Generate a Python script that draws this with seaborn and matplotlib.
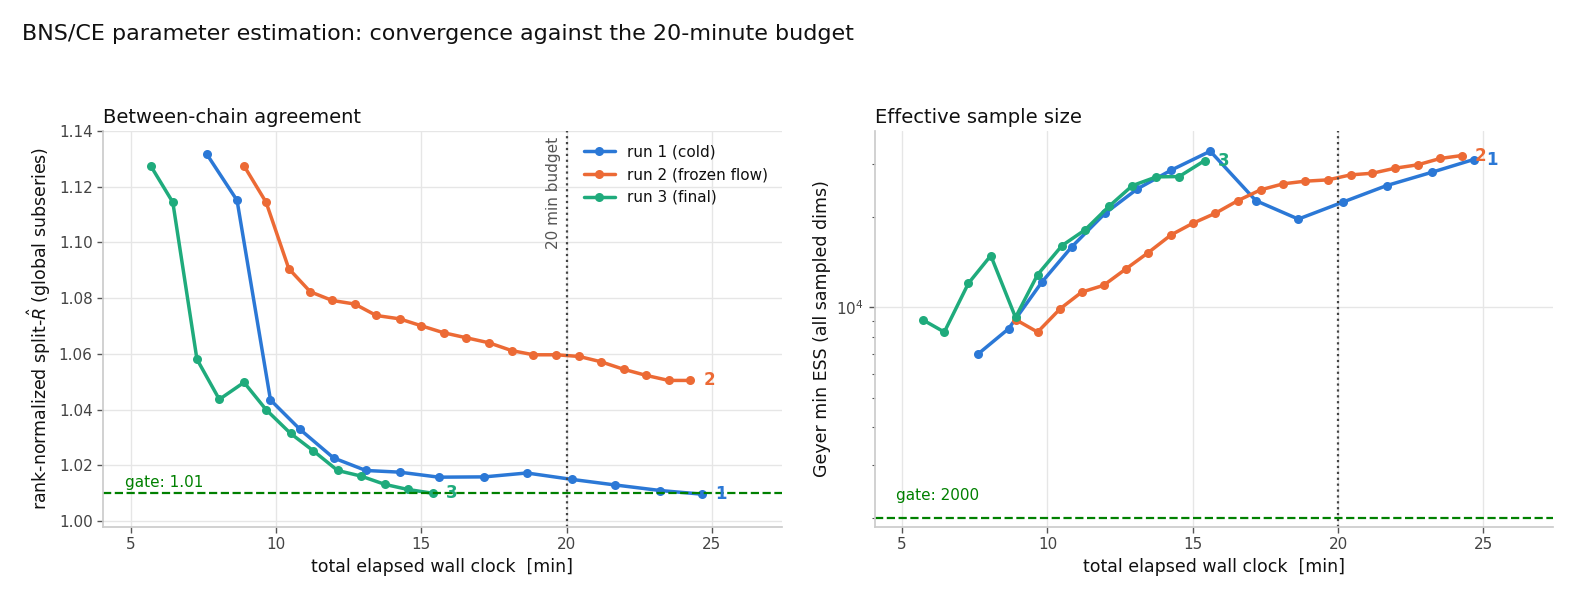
import numpy as np
import pandas as pd
import matplotlib
matplotlib.use("Agg")
import matplotlib.pyplot as plt
import seaborn as sns

sns.set_theme(style="whitegrid")
plt.rcParams['font.family'] = ['DejaVu Sans']
plt.rcParams['text.color'] = '#111111'
plt.rcParams['axes.labelcolor'] = '#111111'

# run 1 (cold)
t1 = [7.61, 8.66, 9.81, 10.83, 11.98, 13.09, 14.25, 15.6, 17.17, 18.63, 20.18, 21.67, 23.23, 24.66]
rhat1 = [1.1318, 1.1151, 1.0435, 1.0329, 1.0227, 1.0182, 1.0176, 1.0158, 1.0159, 1.0173, 1.0150, 1.0130, 1.0110, 1.0097]
ess1 = [7000, 8490, 12140, 15860, 20510, 24720, 28510, 32980, 22600, 19630, 22380, 25360, 28080, 30940]
# run 2 (frozen flow)
t2 = [8.91, 9.66, 10.44, 11.18, 11.93, 12.71, 13.45, 14.25, 15.0, 15.77, 16.55, 17.33, 18.11, 18.86,
      19.65, 20.43, 21.18, 21.96, 22.74, 23.51, 24.26]
rhat2 = [1.1273, 1.1144, 1.0906, 1.0823, 1.0792, 1.0779, 1.0738, 1.0726, 1.0701, 1.0676, 1.0658,
         1.0640, 1.0612, 1.0597, 1.0597, 1.0591, 1.0572, 1.0545, 1.0523, 1.0505, 1.0505]
ess2 = [9100, 8280, 9900, 11240, 11830, 13440, 15150, 17390, 19010, 20510, 22600, 24540, 25700,
        26220, 26490, 27520, 27870, 28960, 29720, 31190, 31910]
# run 3 (final)
t3 = [5.70, 6.45, 7.28, 8.05, 8.90, 9.66, 10.5, 11.29, 12.12, 12.92, 13.75, 14.53, 15.41]
rhat3 = [1.1273, 1.1144, 1.0581, 1.0437, 1.0498, 1.0400, 1.0315, 1.0252, 1.0182, 1.0162, 1.0132, 1.0114, 1.0100]
ess3 = [9100, 8280, 12020, 14850, 9260, 12840, 16030, 18070, 21650, 25350, 27100, 27170, 30700]

runs = [("run 1 (cold)", "1", t1, rhat1, ess1, "#2b78d6"),
        ("run 2 (frozen flow)", "2", t2, rhat2, ess2, "#ec6a35"),
        ("run 3 (final)", "3", t3, rhat3, ess3, "#1fab7c")]

fig = plt.figure(figsize=(15.93, 6.09), dpi=100)
ax1 = fig.add_axes([0.0647, 0.135, 0.426, 0.650])
ax2 = fig.add_axes([0.549, 0.135, 0.426, 0.650])

for name, tag, t, r, e, c in runs:
    df = pd.DataFrame({"t": t, "rhat": r, "ess": e})
    sns.lineplot(data=df, x="t", y="rhat", ax=ax1, color=c, marker="o", markersize=6.5,
                 markeredgewidth=0, linewidth=2.5, label=name)
    sns.lineplot(data=df, x="t", y="ess", ax=ax2, color=c, marker="o", markersize=6.5,
                 markeredgewidth=0, linewidth=2.5, legend=False)
    ax1.text(t[-1] + 0.45, r[-1], tag, color=c, fontsize=12, fontweight="bold", va="center")
    ax2.text(t[-1] + 0.45, e[-1], tag, color=c, fontsize=12, fontweight="bold", va="center")

for ax in (ax1, ax2):
    ax.set_xlim(4.05, 27.4)
    ax.set_xticks([5, 10, 15, 20, 25])
    ax.axvline(20, color="#444444", linestyle=":", linewidth=1.6)
    ax.set_xlabel("total elapsed wall clock  [min]", fontsize=12.5)
    ax.grid(color="#e6e6e6", linewidth=1)
    for s in ["top", "right"]:
        ax.spines[s].set_visible(False)
    for s in ["left", "bottom"]:
        ax.spines[s].set_color("#cccccc")
    ax.tick_params(labelsize=11, colors="#555555", labelcolor="#444444",
                   left=True, bottom=True, length=4, width=1)

ax1.set_ylim(0.998, 1.14)
ax1.set_yticks(np.arange(1.00, 1.141, 0.02))
ax1.axhline(1.01, color="green", linestyle="--", linewidth=1.6)
ax1.text(4.8, 1.0112, "gate: 1.01", color="green", fontsize=11, va="bottom")
ax1.text(19.55, 1.138, "20 min budget", rotation=90, ha="center", va="top", fontsize=11, color="#555555")
ax1.set_ylabel(r"rank-normalized split-$\hat{R}$ (global subseries)", fontsize=12.5)
ax1.set_title("Between-chain agreement", loc="left", fontsize=14)
ax1.legend(loc="upper right", frameon=False, fontsize=11, bbox_to_anchor=(1.0, 1.0))

ax2.set_yscale("log")
ax2.set_ylim(1870, 38500)
ax2.axhline(2000, color="green", linestyle="--", linewidth=1.6)
ax2.text(4.8, 2250, "gate: 2000", color="green", fontsize=11, va="bottom")
ax2.set_ylabel("Geyer min ESS (all sampled dims)", fontsize=12.5)
ax2.set_title("Effective sample size", loc="left", fontsize=14)
ax2.yaxis.grid(True, which="major")
ax2.yaxis.set_minor_locator(matplotlib.ticker.LogLocator(base=10, subs=np.arange(2, 10) * 1.0))
ax2.yaxis.set_minor_formatter(matplotlib.ticker.NullFormatter())
ax2.tick_params(axis="y", which="minor", left=True, length=2.5, width=0.8, color="#555555")

fig.text(0.014, 0.96, "BNS/CE parameter estimation: convergence against the 20-minute budget",
         fontsize=16, va="top", ha="left")

fig.savefig("out.png", dpi=100)
